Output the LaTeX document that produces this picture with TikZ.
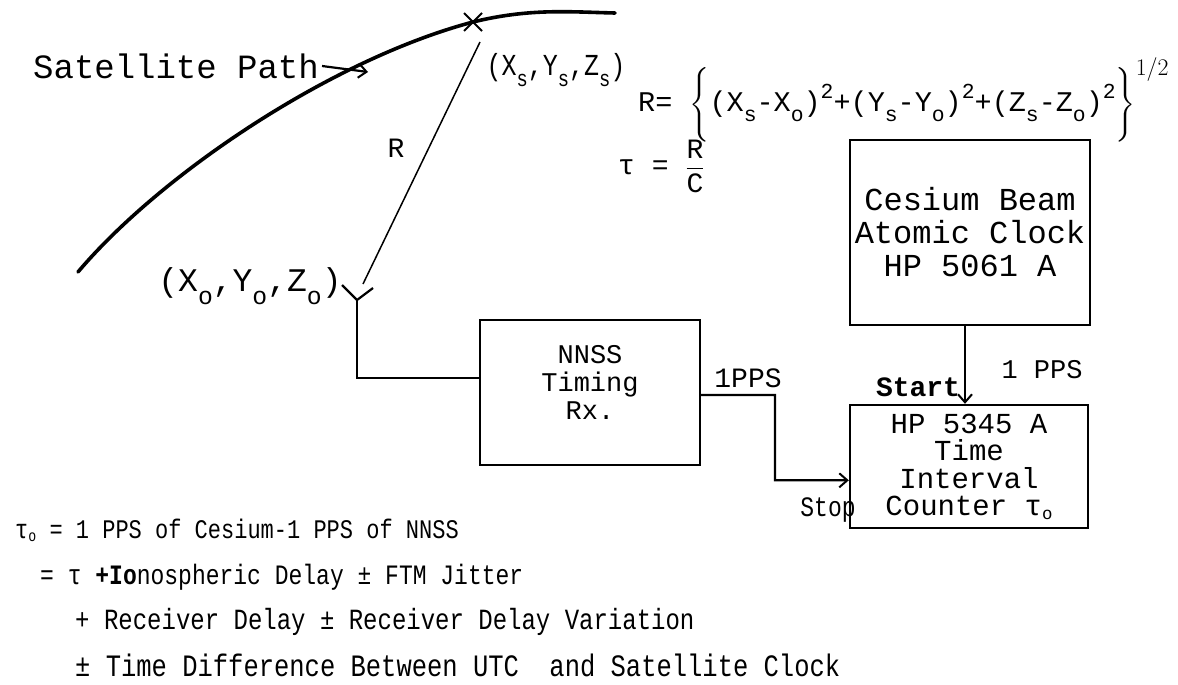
\documentclass[tikz,border=0pt]{standalone}
\usepackage{fontspec}
\usepackage{amsmath}
\usepackage{graphicx}
\setmainfont{Liberation Mono}
\usetikzlibrary{arrows.meta,shapes.misc,calc}
\newcommand{\sbx}[1]{\raisebox{-0.38em}{\scalebox{0.75}{#1}}}
\newcommand{\spx}[1]{\raisebox{0.45em}{\scalebox{0.75}{#1}}}
\newcommand{\zsub}{\raisebox{-0.12em}{\scalebox{0.6}{o}}}
\newcommand{\tts}[2]{\fontsize{#1}{#2}\selectfont}
\newcommand{\tall}[1]{\scalebox{1}[1.22]{#1}}
\begin{document}
\begin{tikzpicture}[x=1pt,y=-1pt,
  every node/.style={font=\tts{30}{32}, inner sep=0pt},
  blk/.style={draw, line width=2.4pt, align=center, inner sep=3pt},
  wire/.style={line width=2.2pt},
  thinwire/.style={line width=1.5pt},
  orbit/.style={line width=3.6pt, line cap=round},
  tip/.style={-{Straight Barb[length=8pt,width=14pt,line width=2pt]}},
  txt/.style={anchor=west},
]
\useasboundingbox (0,0) rectangle (1178,685);

% satellite path
\node[txt, font=\tts{34}{36}] (sp) at (33,66) {Satellite Path};
\coordinate (pathpt) at (368,72);
\node[draw, cross out, line width=2pt, minimum size=16pt] (sat) at (473,22) {};
\draw[orbit] (78,272) .. controls (160,175) and (330,60) .. (sat.center)
  .. controls (530,8) and (570,12) .. (615,13);
\draw[wire, tip] ([xshift=3pt]sp.east) -- (pathpt);
\node[font=\tts{25}{26}] (xs) at (556,70) {\tall{(X\sbx{s},Y\sbx{s},Z\sbx{s})}};

% range line
\coordinate (rtop) at (480,42);
\coordinate (rbot) at (363,284);
\draw[thinwire] (rtop) -- (rbot);
\node[font=\tts{28}{30}] (rlab) at (396,148) {R};

% formulas
\node[anchor=west, font=\tts{28.5}{30}] (rform) at (638,100) {R= $\left\{\rule[-26pt]{0pt}{66pt}\text{(X\sbx{s}-X\sbx{o})\spx{2}+(Y\sbx{s}-Y\sbx{o})\spx{2}+(Z\sbx{s}-Z\sbx{o})\spx{2}}\right\}^{\raisebox{0pt}{\scalebox{1.15}{$\scriptstyle 1/2$}}}$};
\node[anchor=west, font=\tts{28}{30}] (tform) at (618,166) {τ = $\displaystyle\frac{\text{R}}{\text{C}}$};

% antenna
\node[font=\tts{33}{34}] (xo) at (250,286) {(X\sbx{o},Y\sbx{o},Z\sbx{o})};
\coordinate (ant) at (357,300);
\coordinate (armL) at (342,285);
\coordinate (armR) at (373,288);
\draw[wire] (armL) -- (ant) -- (armR);

% boxes
\node[blk, font=\tts{27}{28}, minimum width=220pt, minimum height=145pt] (nnss) at (590,392.5) {NNSS\\Timing\\Rx.\\[-8pt]};
\node[blk, font=\tts{32}{33}, minimum width=240pt, minimum height=185pt] (clk) at (970,232.5) {Cesium Beam\\Atomic Clock\\HP 5061 A};
\node[blk, font=\tts{29}{27.5}, minimum width=238pt, minimum height=123pt] (ctr) at (969,466.5) {HP 5345 A\\Time\\Interval\\Counter τ\zsub};

% connectors
\draw[wire] (ant) |- ($(nnss.north west)!0.4!(nnss.south west)$);
\coordinate (jog) at (775,395);
\draw[wire, tip] ($(nnss.north east)!0.517!(nnss.south east)$) -- (jog) |- ($(ctr.north west)!0.61!(ctr.south west)$);
\node[font=\tts{28}{28}] (pps1) at (748,378) {1PPS};
\node[font=\tts{23}{24}] (stop) at (828,510) {\tall{Stop}};
\draw[wire, tip] ($(clk.south)+(-5,0)$) -- ($(ctr.north)+(-4,0)$);
\node[font=\tts{27}{28}] (pps2) at (1042,370) {1 PPS};
\node[font=\tts{28}{28}] (start) at (918,387) {\textbf{Start}};

% equations
\node[txt, font=\tts{22}{24}] (e1) at (15,530) {\tall{τ\zsub{} = 1 PPS of Cesium-1 PPS of NNSS}};
\node[txt, font=\tts{23}{24}] (e2) at (40,577) {\tall{= τ \textbf{+Io}nospheric Delay ± FTM Jitter}};
\node[txt, font=\tts{24}{24}] (e3) at (75,622) {\tall{+ Receiver Delay ± Receiver Delay Variation}};
\node[txt, font=\tts{25.5}{26}] (e4) at (75,665) {\tall{± Time Difference Between UTC~ and Satellite Clock}};
\end{tikzpicture}
\end{document}
